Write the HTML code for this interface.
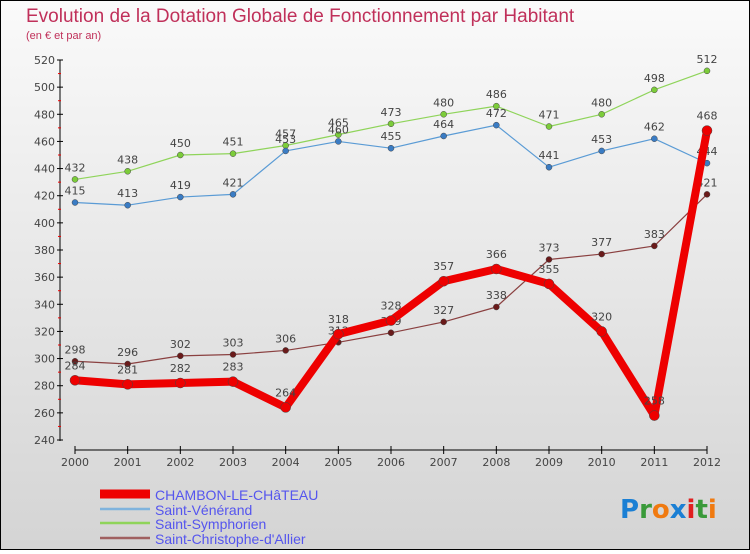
<!DOCTYPE html>
<html><head><meta charset="utf-8"><style>
body{margin:0}
#c{width:750px;height:550px;position:relative;font-family:"DejaVu Sans","Liberation Sans",sans-serif}
</style></head><body>
<div id="c">
<svg id="s" width="750" height="550" xmlns="http://www.w3.org/2000/svg">
<defs><linearGradient id="bg" x1="0" y1="0" x2="0" y2="1"><stop offset="0" stop-color="#fafafa"/><stop offset="1" stop-color="#d4d4d4"/></linearGradient></defs>
<rect x="0.5" y="0.5" width="749" height="549" fill="url(#bg)" stroke="#000"/>
<text x="26" y="22" font-size="19" fill="#c0305a" font-family="Liberation Sans, sans-serif">Evolution de la Dotation Globale de Fonctionnement par Habitant</text>
<text x="26" y="39" font-size="11" fill="#c0305a" font-family="Liberation Sans, sans-serif">(en € et par an)</text>
<g id="g"></g>
<text x="620" y="518" font-size="26" font-weight="bold"><tspan fill="#1a7fd4">P</tspan><tspan fill="#3a9a3a">r</tspan><tspan fill="#f07a10">o</tspan><tspan fill="#1a7fd4">x</tspan><tspan fill="#e02020">i</tspan><tspan fill="#3a9a3a">t</tspan><tspan fill="#f07a10">i</tspan></text>
</svg></div>
<script>
const years=[2000,2001,2002,2003,2004,2005,2006,2007,2008,2009,2010,2011,2012];
const chambon=[284,281,282,283,264,318,328,357,366,355,320,258,468];
const venerand=[415,413,419,421,453,460,455,464,472,441,453,462,444];
const symphorien=[432,438,450,451,457,465,473,480,486,471,480,498,512];
const christophe=[298,296,302,303,306,312,319,327,338,373,377,383,421];
const yTicks=[240,260,280,300,320,340,360,380,400,420,440,460,480,500,520];
const seriesNames=["CHAMBON-LE-CHâTEAU","Saint-Vénérand","Saint-Symphorien","Saint-Christophe-d'Allier"];
const X=i=>75+i*(707-75)/(years.length-1);
const Y=v=>440-(v-240)*(380/280);
const g=document.getElementById('g');
const NS="http://www.w3.org/2000/svg";
function mk(t,a,p){const e=document.createElementNS(NS,t);for(const k in a)e.setAttribute(k,a[k]);(p||g).appendChild(e);return e;}
let ax=mk('line',{x1:60,y1:60,x2:60,y2:441,stroke:'#000'});

yTicks.forEach((v,k)=>{mk('line',{x1:57,y1:Y(v),x2:63,y2:Y(v),stroke:'#000'});
if(k<yTicks.length-1)mk('line',{x1:58,y1:Y(v+10),x2:61,y2:Y(v+10),stroke:'#e00'});
const t=mk('text',{x:55,y:Y(v)+4,'font-size':11,fill:'#444','text-anchor':'end'});t.textContent=v;
});
let xa=mk('line',{x1:75,y1:450,x2:707,y2:450,stroke:'#000'});

years.forEach((y,i)=>{mk('line',{x1:X(i),y1:446,x2:X(i),y2:454,stroke:'#000'});
const t=mk('text',{x:X(i),y:466,'font-size':11,fill:'#444','text-anchor':'middle'});t.textContent=y;
});
function series(d,col,dot,w,r,name,labOff){
const l=mk('polyline',{points:d.map((v,i)=>X(i)+','+Y(v)).join(' '),fill:'none',stroke:col,'stroke-width':w,'stroke-linejoin':'round'});

d.forEach((v,i)=>{const c=mk('circle',{cx:X(i),cy:Y(v),r:r,fill:dot,stroke:'#444','stroke-width':0.5});

const t=mk('text',{x:X(i),y:Y(v)+labOff,'font-size':11,fill:'#444','text-anchor':'middle'});t.textContent=v;
});}
series(symphorien,'#8fd45a','#7ccc3a',1.2,3,'saint-symphorien',-8);
series(venerand,'#5a9bd5','#3a7cc4',1.2,3,'saint-venerand',-8);
series(christophe,'#8a4040','#6a1a1a',1.2,3,'saint-christophe',-8);
series(chambon,'#ee0000','#ee0000',8,5,'chambon',-11);
const legCols=['#ee0000','#7fb3dd','#8fd45a','#a06060'];
seriesNames.forEach((n,i)=>{const y=[494,509,523,538][i];
const l=mk('line',{x1:100,y1:y,x2:150,y2:y,stroke:legCols[i],'stroke-width':i==0?9:2.5});

const t=mk('text',{x:155,y:y+6,'font-size':14,fill:'#5555ee','font-family':'Liberation Sans, sans-serif'});t.textContent=n;
});
</script>
</body></html>
